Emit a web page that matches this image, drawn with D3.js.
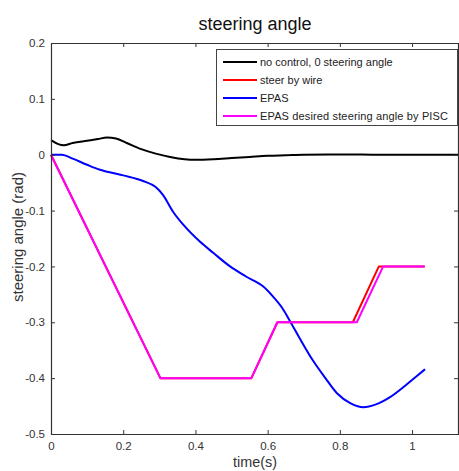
<!DOCTYPE html>
<html><head><meta charset="utf-8">
<script src="https://cdn.jsdelivr.net/npm/d3@7"></script>
<style>body{margin:0;background:#fff}svg{display:block}</style>
</head><body><svg id="c" width="459" height="471"></svg>
<script>
const xTicks=[0,0.2,0.4,0.6,0.8,1];
const yTicks=[0.2,0.1,0,-0.1,-0.2,-0.3,-0.4,-0.5];
const seriesNames=["no control, 0 steering angle","steer by wire","EPAS","EPAS desired steering angle by PISC"];
const seriesColors=["#000000","#ff0000","#0000ff","#ff00ff"];
const noControl=[[0,0.026],[0.02,0.019],[0.035,0.017],[0.06,0.021],[0.1,0.025],[0.13,0.028],[0.155,0.031],[0.18,0.029],[0.21,0.021],[0.25,0.01],[0.29,0.002],[0.33,-0.004],[0.37,-0.008],[0.4,-0.009],[0.45,-0.008],[0.5,-0.006],[0.55,-0.004],[0.6,-0.002],[0.65,-0.001],[0.7,0],[0.8,0.0005],[0.9,0],[1.0,0],[1.13,0]];
const steerByWire=[[0,0],[0.303,-0.4],[0.555,-0.4],[0.627,-0.3],[0.836,-0.3],[0.908,-0.2],[1.035,-0.2]];
const epas=[[0,0],[0.03,0],[0.06,-0.007],[0.1,-0.018],[0.136,-0.027],[0.2,-0.037],[0.255,-0.047],[0.29,-0.058],[0.31,-0.072],[0.338,-0.102],[0.37,-0.128],[0.413,-0.156],[0.45,-0.176],[0.496,-0.2],[0.54,-0.218],[0.588,-0.236],[0.615,-0.254],[0.64,-0.274],[0.662,-0.298],[0.69,-0.33],[0.726,-0.369],[0.76,-0.4],[0.792,-0.427],[0.83,-0.445],[0.865,-0.452],[0.9,-0.447],[0.939,-0.434],[0.98,-0.414],[1.01,-0.398],[1.036,-0.384]];
const episcDesired=[[0,0],[0.303,-0.4],[0.555,-0.4],[0.627,-0.3],[0.847,-0.3],[0.92,-0.2],[1.035,-0.2]];

const svg=d3.select("#c");
const L=51,R=459,T=43,B=434;
const x=d3.scaleLinear().domain([0,1.13]).range([L,R]);
const y=d3.scaleLinear().domain([-0.5,0.2]).range([B,T]);
const font="Liberation Sans, Arial, sans-serif";
const axisCol="#333";

const line=d3.line().x(d=>x(d[0])).y(d=>y(d[1])).curve(d3.curveMonotoneX);
const lineLin=d3.line().x(d=>x(d[0])).y(d=>y(d[1]));
const plot=svg.append("g");
const data=[[noControl,line],[steerByWire,lineLin],[epas,line],[episcDesired,lineLin]];
data.forEach((s,i)=>{
  plot.append("path").attr("d",s[1](s[0])).attr("fill","none").attr("stroke",seriesColors[i]).attr("stroke-width",2).attr("stroke-linejoin","round");
});

const gb=svg.append("g").attr("transform",`translate(0,${B})`).call(d3.axisBottom(x).tickValues(xTicks).tickSizeInner(-4).tickSizeOuter(0).tickPadding(8).tickFormat(d=>d===1?"1":d===0?"0":d.toFixed(1)));
const gt=svg.append("g").attr("transform",`translate(0,${T})`).call(d3.axisTop(x).tickValues(xTicks).tickSizeInner(-4).tickSizeOuter(0).tickFormat(""));
const gl=svg.append("g").attr("transform",`translate(${L},0)`).call(d3.axisLeft(y).tickValues(yTicks).tickSizeInner(-4).tickSizeOuter(0).tickPadding(6).tickFormat(d=>d===0?"0":d.toFixed(1)));
const gr=svg.append("g").attr("transform",`translate(${R-1},0)`).call(d3.axisRight(y).tickValues(yTicks).tickSizeInner(-4).tickSizeOuter(0).tickFormat(""));
[gb,gt,gl,gr].forEach(g=>{
  g.select(".domain").attr("stroke",axisCol).attr("stroke-width",1.2);
  g.selectAll(".tick line").attr("stroke",axisCol);
  g.selectAll("text").attr("fill",axisCol).style("font-family",font).style("font-size","11.5px");
});

svg.append("text").attr("x",255).attr("y",30).attr("text-anchor","middle").style("font-family",font).style("font-size","18px").attr("fill","#111").text("steering angle");
svg.append("text").attr("x",255).attr("y",467).attr("text-anchor","middle").style("font-family",font).style("font-size","14.4px").attr("fill",axisCol).text("time(s)");
svg.append("text").attr("transform","translate(23,237) rotate(-90)").attr("text-anchor","middle").style("font-family",font).style("font-size","15px").attr("fill",axisCol).text("steering angle (rad)");

// legend
const lg=svg.append("g");
lg.append("rect").attr("x",216.5).attr("y",49.5).attr("width",241).attr("height",76).attr("fill","#fff").attr("stroke","#444").attr("stroke-width",1);
seriesNames.forEach((n,i)=>{
  const yy=62+i*18;
  lg.append("line").attr("x1",223).attr("x2",257).attr("y1",yy).attr("y2",yy).attr("stroke",seriesColors[i]).attr("stroke-width",2);
  lg.append("text").attr("x",260).attr("y",yy+4).style("font-family",font).style("font-size","11px").attr("fill","#222").attr("textLength",i===3?188:null).text(n);
});
</script></body></html>
